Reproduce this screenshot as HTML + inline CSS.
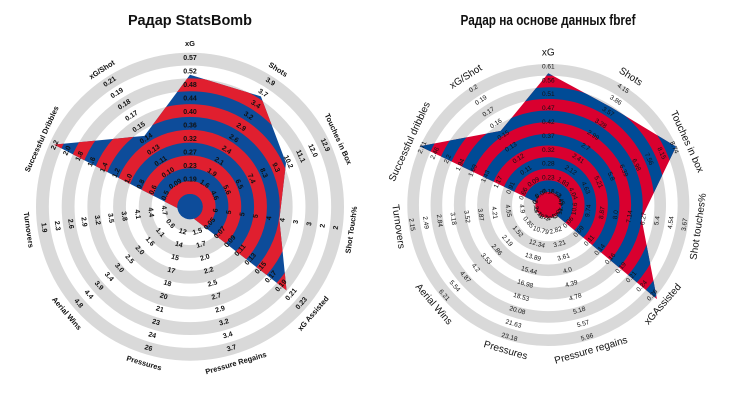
<!DOCTYPE html>
<html><head><meta charset="utf-8">
<style>
html,body{margin:0;padding:0;background:#fff;}
svg{display:block;}
.t{font-family:"Liberation Sans Narrow","Liberation Sans","DejaVu Sans Condensed",sans-serif;font-weight:bold;font-size:15px;fill:#111;}
.tkL{font-family:"Liberation Sans",sans-serif;font-weight:bold;font-size:7px;fill:#111;}
.tkR{font-family:"Liberation Sans",sans-serif;font-size:6.5px;fill:#111;}
.nmL{font-family:"Liberation Sans",sans-serif;font-weight:bold;font-size:7.5px;fill:#111;}
.nmR{font-family:"Liberation Sans",sans-serif;font-size:10px;fill:#111;}
</style></head>
<body>
<svg id="chart" width="730" height="411" viewBox="0 0 730 411" xmlns="http://www.w3.org/2000/svg">
<text class="t" x="190" y="25" text-anchor="middle" textLength="124" lengthAdjust="spacingAndGlyphs">Радар StatsBomb</text>
<text class="t" x="548" y="25" text-anchor="middle" textLength="175" lengthAdjust="spacingAndGlyphs">Радар на основе данных fbref</text>
</svg>
<script>
const categoriesL = ["xG","Shots","Touches in Box","Shot Touch%","xG Assisted","Pressure Regains","Pressures","Aerial Wins","Turnovers","Successful Dribbles","xG/Shot"];
const valuesL = [0.52,3.58,10.0,3.9,0.20,1.24,10.3,0.1,5.03,2.22,0.147];
const ticksL = [
["0.19","0.23","0.27","0.32","0.36","0.40","0.44","0.48","0.52","0.57"],
["1.6","1.9","2.1","2.4","2.6","2.9","3.2","3.4","3.7","3.9"],
["4.6","5.6","6.5","7.4","8.3","9.3","10.2","11.1","12.0","12.9"],
["6","5","5","5","4","4","3","3","2","2"],
["0.05","0.07","0.09","0.11","0.13","0.15","0.17","0.19","0.21","0.23"],
["1.5","1.7","2.0","2.2","2.5","2.7","2.9","3.2","3.4","3.7"],
["12","14","15","17","18","20","21","23","24","26"],
["0.6","1.1","1.6","2.0","2.5","3.0","3.4","3.9","4.4","4.8"],
["4.7","4.4","4.1","3.8","3.5","3.2","2.9","2.6","2.3","1.9"],
["0.5","0.6","0.8","1.0","1.2","1.4","1.6","1.8","2.0","2.2"],
["0.09","0.10","0.11","0.13","0.14","0.15","0.17","0.18","0.19","0.21"]];
const tickMinL = [0.19,1.6,4.6,6.0,0.05,1.5,12,0.6,4.7,0.5,0.09];
const tickMaxL = [0.57,3.9,12.9,2.0,0.23,3.7,26,4.8,1.9,2.2,0.21];

const categoriesR = ["xG","Shots","Touches in box","Shot touches%","xGAssisted","Pressure regains","Pressures","Aerial Wins","Turnovers","Successful dribbles","xG/Shot"];
const valuesR = [0.588,3.69,8.84,6.41,0.27,2.2,8.34,-0.2,5.44,2.77,0.152];
const ticksR = [
["0.18","0.23","0.28","0.32","0.37","0.42","0.47","0.51","0.56","0.61"],
["1.53","1.83","2.12","2.41","2.7","2.99","3.28","3.57","3.86","4.15"],
["3.45","4.04","4.63","5.21","5.8","6.39","6.98","7.56","8.15","8.74"],
["11.47","10.6","9.74","8.87","8.0","7.14","6.27","5.4","4.54","3.67"],
["0.04","0.06","0.09","0.11","0.14","0.16","0.19","0.21","0.24","0.26"],
["2.43","2.82","3.21","3.61","4.0","4.39","4.78","5.18","5.57","5.96"],
["9.24","10.79","12.34","13.89","15.44","16.98","18.53","20.08","21.63","23.18"],
["0.18","0.85","1.52","2.19","2.86","3.53","4.2","4.87","5.54","6.21"],
["5.24","4.9","4.55","4.21","3.87","3.52","3.18","2.84","2.49","2.15"],
["0.4","0.66","0.91","1.17","1.43","1.69","1.94","2.2","2.46","2.71"],
["0.08","0.09","0.11","0.12","0.13","0.15","0.16","0.17","0.19","0.2"]];
const tickMinR = [0.18,1.53,3.45,11.47,0.04,2.43,9.24,0.18,5.24,0.4,0.08];
const tickMaxR = [0.61,4.15,8.74,3.67,0.26,5.96,23.18,6.21,2.15,2.71,0.2];

const NS = "http://www.w3.org/2000/svg";
const svg = document.getElementById('chart');
function mk(tag, attrs, parent){
  const e = document.createElementNS(NS, tag);
  for (const k in attrs) e.setAttribute(k, attrs[k]);
  (parent||svg).appendChild(e);
  return e;
}
function drawRadar(id, cfg, cats, vals, ticks, tmin, tmax){
  const n = cats.length;
  const g = mk('g', {});
  
  
  const bw = (cfg.rMax - cfg.rDisk) / 11;
  for (let k = 0; k < 11; k++) {
    if (k % 2 === 0) {
      const c = mk('circle', {cx:cfg.cx, cy:cfg.cy, r:cfg.rDisk + bw*(k+0.5), fill:'none', stroke:'#d9d9d9', 'stroke-width':bw}, g);
      
      
    }
  }
  const ang = j => j * 2 * Math.PI / n;
  const rOf = j => {
    const f = (vals[j] - tmin[j]) / (tmax[j] - tmin[j]);
    return Math.max(0, cfg.r0 + f * 9 * cfg.step);
  };
  const pts = [];
  for (let j = 0; j < n; j++) {
    const r = rOf(j), a = ang(j);
    pts.push((cfg.cx + r*Math.sin(a)).toFixed(2) + ',' + (cfg.cy - r*Math.cos(a)).toFixed(2));
  }
  const cp = mk('clipPath', {id: id + '-clip'}, g);
  mk('polygon', {points: pts.join(' ')}, cp);
  const pg = mk('g', {'clip-path': 'url(#' + id + '-clip)'}, g);
  
  
  mk('circle', {cx:cfg.cx, cy:cfg.cy, r:cfg.rMax + 40, fill:cfg.c1}, pg);
  for (let k = 0; k < 14; k++) {
    if (k % 2 === 0) {
      mk('circle', {cx:cfg.cx, cy:cfg.cy, r:cfg.rDisk + bw*(k+0.5), fill:'none', stroke:cfg.c0, 'stroke-width':bw}, pg);
    }
  }
  const disk = mk('circle', {cx:cfg.cx, cy:cfg.cy, r:cfg.rDisk, fill:cfg.disk}, g);
  
  
  for (let j = 0; j < n; j++) {
    const a = ang(j), deg = a * 180 / Math.PI;
    const rot = (deg > 90 && deg < 270) ? deg - 180 : deg;
    for (let i = 0; i < ticks[j].length; i++) {
      const r = cfg.r0 + i * cfg.step;
      const x = cfg.cx + r*Math.sin(a), y = cfg.cy - r*Math.cos(a);
      const t = mk('text', {x:x, y:y, 'text-anchor':'middle', 'dominant-baseline':'central', class:cfg.tk, transform:'rotate(' + rot.toFixed(2) + ' ' + x.toFixed(2) + ' ' + y.toFixed(2) + ')'}, g);
      t.textContent = ticks[j][i];
      
      
    }
    const x = cfg.cx + cfg.rName*Math.sin(a), y = cfg.cy - cfg.rName*Math.cos(a);
    const t = mk('text', {x:x, y:y, 'text-anchor':'middle', 'dominant-baseline':'central', class:cfg.nm, transform:'rotate(' + rot.toFixed(2) + ' ' + x.toFixed(2) + ' ' + y.toFixed(2) + ')'}, g);
    t.textContent = cats[j];
    
    
  }
}
drawRadar('left', {cx:190, cy:206.7, rDisk:12.7, rMax:154, r0:26.5, step:13.5, c0:'#e01f2f', c1:'#0d4c9a', disk:'#0d4c9a', rName:163, tk:'tkL', nm:'nmL'}, categoriesL, valuesL, ticksL, tickMinL, tickMaxL);
drawRadar('right', {cx:548.3, cy:205, rDisk:13, rMax:141, r0:13, step:13.9, c0:'#004b96', c1:'#d9002f', disk:'#d9002f', rName:152, tk:'tkR', nm:'nmR'}, categoriesR, valuesR, ticksR, tickMinR, tickMaxR);
</script>
</body></html>
